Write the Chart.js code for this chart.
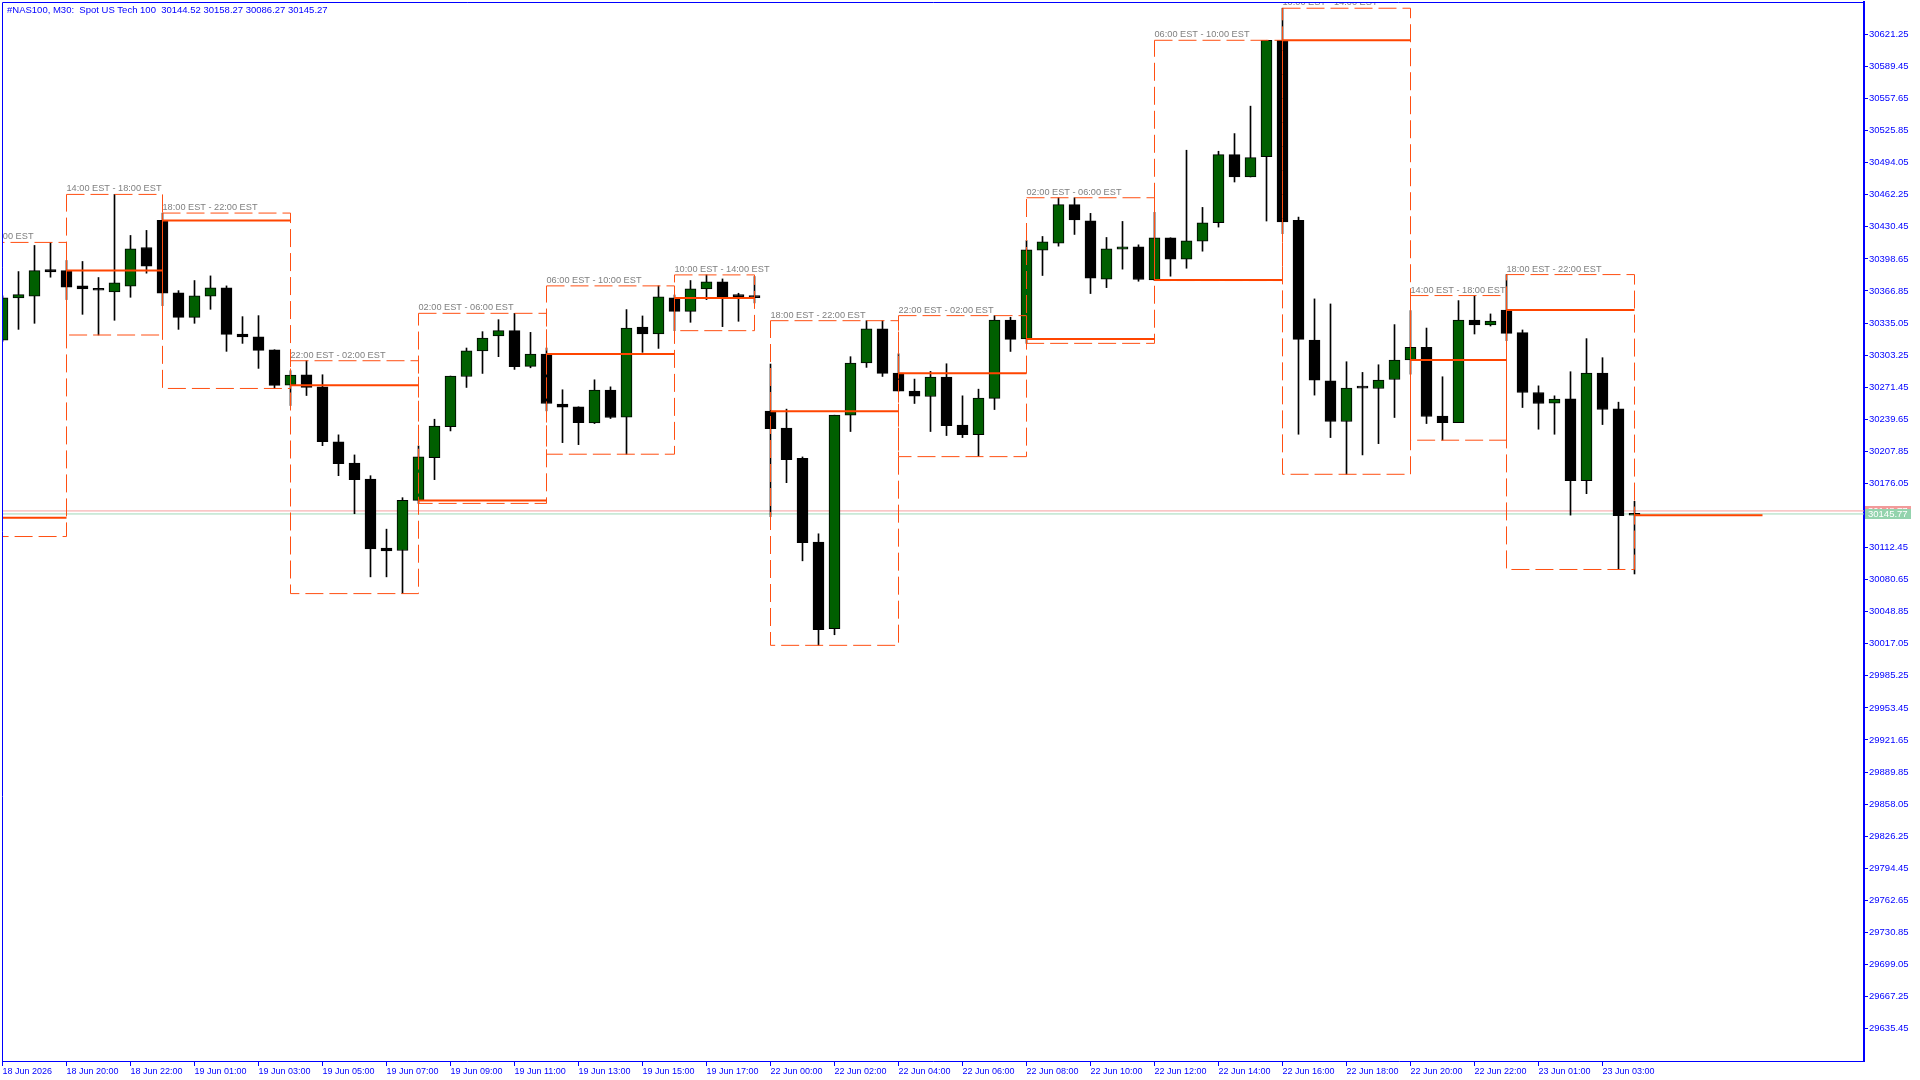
<!DOCTYPE html>
<html lang="en">
  <head>
    <meta charset="UTF-8" />
    <meta name="viewport" content="width=device-width, initial-scale=1.0" />
    <script src="https://cdn.jsdelivr.net/npm/chart.js@4.4.1/dist/chart.umd.min.js"></script>
    <title>#NAS100, M30</title>
    <style>
      html, body { margin: 0; padding: 0; background: #ffffff; overflow: hidden; }
      canvas { display: block; }
    </style>
  </head>
  <body>
    <canvas id="chart" width="1920" height="1080"></canvas>
    <script>
      // M30 bars, index 0 = 18 Jun 18:00 (server time)
      const opens = [
        30318.2, 30360.0, 30361.6, 30388.1, 30387.1, 30371.9, 30368.2, 30365.9, 30371.6, 30410.0,
        30436.8, 30364.9, 30340.7, 30361.6, 30369.9, 30324.2, 30321.5, 30308.6, 30273.5, 30283.8,
        30271.9, 30217.2, 30196.3, 30180.4, 30111.9, 30109.5, 30159.2, 30201.6, 30232.4, 30282.1,
        30307.3, 30322.2, 30327.5, 30292.1, 30304.3, 30254.6, 30252.0, 30236.1, 30268.5, 30241.7,
        30331.1, 30324.2, 30360.0, 30346.7, 30368.9, 30375.9, 30363.3, 30361.0, 30247.7, 30230.8,
        30201.0, 30117.8, 30032.0, 30243.7, 30295.4, 30329.2, 30285.4, 30267.5, 30262.2, 30281.5,
        30233.8, 30224.5, 30260.3, 30338.1, 30319.2, 30407.3, 30414.3, 30452.4, 30436.5, 30378.5,
        30408.3, 30410.6, 30377.8, 30419.6, 30398.4, 30416.3, 30434.5, 30502.1, 30479.9, 30500.1,
        30615.4, 30436.8, 30318.2, 30277.8, 30237.4, 30270.5, 30270.2, 30279.1, 30298.4, 30310.9,
        30242.7, 30236.4, 30338.1, 30333.1, 30348.0, 30325.5, 30266.2, 30255.6, 30259.9, 30178.8,
        30285.4, 30250.0, 30144.52
      ];
      const highs = [
        30362.0, 30386.1, 30412.0, 30415.0, 30397.1, 30396.1, 30380.2, 30462.6, 30421.9, 30426.9,
        30444.1, 30367.2, 30377.2, 30381.8, 30371.9, 30341.4, 30342.4, 30308.6, 30287.8, 30297.7,
        30283.8, 30224.2, 30204.3, 30183.7, 30130.7, 30161.9, 30213.2, 30239.7, 30282.5, 30310.3,
        30326.5, 30338.4, 30344.7, 30325.8, 30310.3, 30268.9, 30252.0, 30278.8, 30271.8, 30348.4,
        30342.1, 30371.9, 30362.9, 30377.2, 30382.8, 30378.8, 30364.6, 30381.2, 30294.4, 30249.7,
        30202.3, 30126.1, 30243.7, 30301.7, 30337.4, 30337.4, 30304.6, 30279.5, 30287.1, 30294.7,
        30262.9, 30269.5, 30342.4, 30340.8, 30416.9, 30420.9, 30459.3, 30459.3, 30443.8, 30419.9,
        30435.8, 30412.6, 30444.8, 30419.6, 30506.4, 30449.7, 30505.4, 30522.9, 30550.1, 30615.4,
        30647.2, 30440.1, 30359.0, 30354.0, 30296.7, 30286.1, 30293.7, 30333.5, 30347.4, 30330.1,
        30281.8, 30357.3, 30362.3, 30344.1, 30383.1, 30328.2, 30272.8, 30262.9, 30286.8, 30319.6,
        30300.7, 30256.6, 30158.27
      ];
      const lows = [
        30316.9, 30328.8, 30334.8, 30380.5, 30358.3, 30343.7, 30323.2, 30337.8, 30360.6, 30384.5,
        30352.3, 30328.8, 30334.8, 30348.7, 30307.0, 30314.9, 30290.1, 30270.2, 30253.3, 30263.2,
        30213.5, 30183.7, 30146.0, 30083.4, 30083.4, 30066.8, 30156.2, 30179.8, 30228.1, 30271.2,
        30285.1, 30301.7, 30289.1, 30290.7, 30248.0, 30216.5, 30214.5, 30235.4, 30240.4, 30205.0,
        30306.0, 30309.9, 30327.5, 30335.8, 30358.3, 30331.5, 30336.8, 30355.0, 30143.0, 30176.8,
        30099.3, 30015.5, 30026.0, 30227.5, 30291.1, 30282.1, 30267.5, 30255.3, 30227.5, 30223.5,
        30221.5, 30202.6, 30249.3, 30306.9, 30314.9, 30382.2, 30411.3, 30422.9, 30364.3, 30370.2,
        30388.5, 30376.5, 30377.2, 30381.5, 30389.4, 30406.3, 30430.2, 30474.9, 30479.9, 30436.2,
        30423.6, 30224.8, 30263.6, 30221.5, 30185.1, 30204.3, 30215.5, 30241.4, 30284.4, 30235.4,
        30218.9, 30236.4, 30324.2, 30332.1, 30317.6, 30251.3, 30229.8, 30224.8, 30144.6, 30165.9,
        30234.4, 30090.7, 30086.27
      ];
      const closes = [
        30360.0, 30363.3, 30387.1, 30385.8, 30370.6, 30368.9, 30367.6, 30374.9, 30408.7, 30391.4,
        30364.6, 30340.7, 30362.0, 30369.9, 30323.9, 30321.2, 30308.0, 30273.2, 30283.4, 30271.2,
        30217.5, 30195.7, 30179.8, 30111.2, 30109.2, 30159.2, 30202.3, 30232.8, 30282.5, 30307.6,
        30320.2, 30327.5, 30291.7, 30304.3, 30255.3, 30251.6, 30236.4, 30268.5, 30241.4, 30330.1,
        30324.2, 30361.0, 30346.7, 30368.9, 30375.9, 30361.3, 30361.3, 30360.3, 30230.4, 30199.6,
        30117.2, 30031.0, 30243.7, 30295.4, 30329.2, 30285.1, 30267.5, 30262.6, 30281.5, 30233.4,
        30224.5, 30260.6, 30338.1, 30318.9, 30407.7, 30415.6, 30452.4, 30437.2, 30379.5, 30408.7,
        30410.6, 30378.2, 30419.6, 30398.4, 30416.6, 30434.5, 30502.1, 30479.9, 30499.1, 30615.4,
        30435.2, 30318.9, 30278.5, 30237.4, 30270.5, 30270.5, 30278.5, 30298.4, 30310.9, 30242.4,
        30236.4, 30338.1, 30333.1, 30337.1, 30324.8, 30266.2, 30255.3, 30259.6, 30178.8, 30285.4,
        30249.3, 30144.0, 30145.27
      ];

      // session boxes: first bar, right edge bar, label
      const sessionStarts = [-4, 4, 10, 18, 26, 34, 42, 48, 56, 64, 72, 80, 88, 94, 102];
      const sessionEdges = [4, 10, 18, 26, 34, 42, 47, 56, 64, 72, 80, 88, 94, 102, 110];
      const sessionLabels = [
        "10:00 EST - 14:00 EST", "14:00 EST - 18:00 EST", "18:00 EST - 22:00 EST",
        "22:00 EST - 02:00 EST", "02:00 EST - 06:00 EST", "06:00 EST - 10:00 EST",
        "10:00 EST - 14:00 EST", "18:00 EST - 22:00 EST", "22:00 EST - 02:00 EST",
        "02:00 EST - 06:00 EST", "06:00 EST - 10:00 EST", "10:00 EST - 14:00 EST",
        "14:00 EST - 18:00 EST", "18:00 EST - 22:00 EST", "22:00 EST - 02:00 EST"
      ];
      // first session began before the visible bars
      const firstSessionOpen = 30142.0;
      const firstSessionLow = 30123.4;

      const timeLabels = [
        "18 Jun 2026", "18 Jun 20:00", "18 Jun 22:00", "19 Jun 01:00", "19 Jun 03:00",
        "19 Jun 05:00", "19 Jun 07:00", "19 Jun 09:00", "19 Jun 11:00", "19 Jun 13:00",
        "19 Jun 15:00", "19 Jun 17:00", "22 Jun 00:00", "22 Jun 02:00", "22 Jun 04:00",
        "22 Jun 06:00", "22 Jun 08:00", "22 Jun 10:00", "22 Jun 12:00", "22 Jun 14:00",
        "22 Jun 16:00", "22 Jun 18:00", "22 Jun 20:00", "22 Jun 22:00", "23 Jun 01:00",
        "23 Jun 03:00"
      ];
      const barsPerLabel = 4;

      const priceTicks = [
        29635.45, 29667.25, 29699.05, 29730.85, 29762.65, 29794.45, 29826.25, 29858.05,
        29889.85, 29921.65, 29953.45, 29985.25, 30017.05, 30048.85, 30080.65, 30112.45,
        30144.25, 30176.05, 30207.85, 30239.65, 30271.45, 30303.25, 30335.05, 30366.85,
        30398.65, 30430.45, 30462.25, 30494.05, 30525.85, 30557.65, 30589.45, 30621.25
      ];

      const askPrice = 30148.77;
      const bidPrice = 30145.77;
      const title = "#NAS100, M30:  Spot US Tech 100  30144.52 30158.27 30086.27 30145.27";

      const blue = "#0000ff";
      const boxColor = "#ff4f12";
      const lineColor = "#ff4500";
      const font = '"Liberation Sans", Arial, sans-serif';

      // session stats from the bars
      let sessions = [];
      for (let k = 0; k < sessionStarts.length; k++) {
        let from = Math.max(sessionStarts[k], 0);
        let to = k + 1 < sessionStarts.length ? sessionStarts[k + 1] : opens.length;
        let hi = -Infinity, lo = Infinity;
        for (let i = from; i < to; i++) {
          hi = Math.max(hi, highs[i]);
          lo = Math.min(lo, lows[i]);
        }
        let open = opens[from];
        if (sessionStarts[k] < 0) {
          open = firstSessionOpen;
          lo = Math.min(lo, firstSessionLow);
        }
        sessions.push({ s: sessionStarts[k], e: sessionEdges[k], hi, lo, open, label: sessionLabels[k], done: k < sessionStarts.length - 1 });
      }

      let datasets = [];
      sessions.forEach((ss) => {
        datasets.push({
          type: "line",
          data: [{ x: ss.s, y: ss.open }, { x: ss.e, y: ss.open }],
          borderColor: lineColor,
          borderWidth: 2,
          pointRadius: 0,
          fill: false,
          order: 0,
        });
        if (ss.done) {
          datasets.push({
            type: "line",
            data: [
              { x: ss.s, y: ss.hi }, { x: ss.e, y: ss.hi }, { x: ss.e, y: ss.lo },
              { x: ss.s, y: ss.lo }, { x: ss.s, y: ss.hi },
            ],
            borderColor: boxColor,
            borderWidth: 1,
            borderDash: [18, 6],
            pointRadius: 0,
            fill: false,
            order: 1,
          });
        }
      });

      datasets.push({
        type: "bar",
        data: opens.map((o, i) => ({ x: i, y: [o, closes[i]] })),
        backgroundColor: opens.map((o, i) => (closes[i] > o ? "#005f00" : "#000000")),
        borderColor: "#000000",
        borderWidth: 1,
        borderSkipped: false,
        barThickness: 11,
        minBarLength: 2,
        grouped: false,
        order: 2,
      });
      datasets.push({
        type: "bar",
        data: lows.map((l, i) => ({ x: i, y: [l, highs[i]] })),
        backgroundColor: "#000000",
        borderWidth: 0,
        barThickness: 1,
        grouped: false,
        order: 3,
      });
      datasets.push({
        type: "line",
        data: [{ x: -1, y: askPrice }, { x: 120, y: askPrice }],
        borderColor: "#f5a0a0",
        borderWidth: 1,
        pointRadius: 0,
        order: 4,
      });
      datasets.push({
        type: "line",
        data: [{ x: -1, y: bidPrice }, { x: 120, y: bidPrice }],
        borderColor: "#9fd8b8",
        borderWidth: 1,
        pointRadius: 0,
        order: 4,
      });

      const overlay = {
        id: "overlay",
        afterDatasetsDraw(chart) {
          const { ctx, chartArea: a, scales } = chart;
          const x = scales.x, y = scales.y;
          ctx.save();
          ctx.beginPath();
          ctx.rect(a.left, a.top, a.right - a.left, a.bottom - a.top);
          ctx.clip();
          ctx.font = "9.2px " + font;
          ctx.fillStyle = "#7f7f7f";
          ctx.textBaseline = "alphabetic";
          ctx.textAlign = "left";
          sessions.forEach((ss) => {
            if (ss.done) ctx.fillText(ss.label, x.getPixelForValue(ss.s), y.getPixelForValue(ss.hi) - 3);
          });
          ctx.restore();

          ctx.save();
          ctx.strokeStyle = blue;
          ctx.lineWidth = 1;
          ctx.beginPath();
          ctx.moveTo(a.left + 0.5, a.bottom);
          ctx.lineTo(a.left + 0.5, a.top + 0.5);
          ctx.lineTo(a.right, a.top + 0.5);
          ctx.stroke();

          ctx.fillStyle = blue;
          ctx.font = "9.5px " + font;
          ctx.textBaseline = "alphabetic";
          ctx.fillText(title, 7, 13);

          // price labels on the axis
          ctx.textBaseline = "middle";
          [[askPrice, "#f29a9a"], [bidPrice, "#93d3ad"]].forEach(([p, c]) => {
            const py = y.getPixelForValue(p);
            ctx.fillStyle = c;
            ctx.fillRect(a.right + 1, Math.round(py) - 5, 46, 10);
            ctx.fillStyle = "#ffffff";
            ctx.fillText(p.toFixed(2), a.right + 4, Math.round(py) + 0.5);
          });
          ctx.restore();
        },
      };

      new Chart(document.getElementById("chart"), {
        type: "bar",
        data: { datasets },
        options: {
          responsive: false,
          animation: false,
          events: [],
          layout: { padding: { left: 2, top: 2, right: 0, bottom: 0 } },
          plugins: { legend: { display: false }, tooltip: { enabled: false } },
          scales: {
            x: {
              type: "linear",
              min: -0.03125,
              max: 116.34375,
              offset: false,
              grid: { drawOnChartArea: false, tickLength: 5, tickColor: blue, offset: false },
              border: { color: blue, width: 1 },
              ticks: {
                autoSkip: false,
                maxRotation: 0,
                minRotation: 0,
                align: "start",
                padding: 0,
                color: blue,
                font: { family: font, size: 9 },
                callback: (v, i) => timeLabels[i],
              },
              afterBuildTicks: (s) => {
                s.ticks = timeLabels.map((t, i) => ({ value: i * barsPerLabel }));
              },
              afterFit: (s) => {
                s.height = 19;
                s.paddingLeft = 0;
                s.paddingRight = 0;
              },
            },
            y: {
              type: "linear",
              position: "right",
              min: 29603.38,
              max: 30653.37,
              grid: { drawOnChartArea: false, tickLength: 4, tickColor: blue },
              border: { color: blue, width: 2 },
              ticks: {
                autoSkip: false,
                padding: 1,
                color: blue,
                font: { family: font, size: 9.5 },
                callback: (v) => Number(v).toFixed(2),
              },
              afterBuildTicks: (s) => {
                s.ticks = priceTicks.map((v) => ({ value: v }));
              },
              afterFit: (s) => {
                s.width = 56;
                s.paddingTop = 0;
                s.paddingBottom = 0;
              },
            },
          },
        },
        plugins: [overlay],
      });
    </script>
  </body>
</html>
